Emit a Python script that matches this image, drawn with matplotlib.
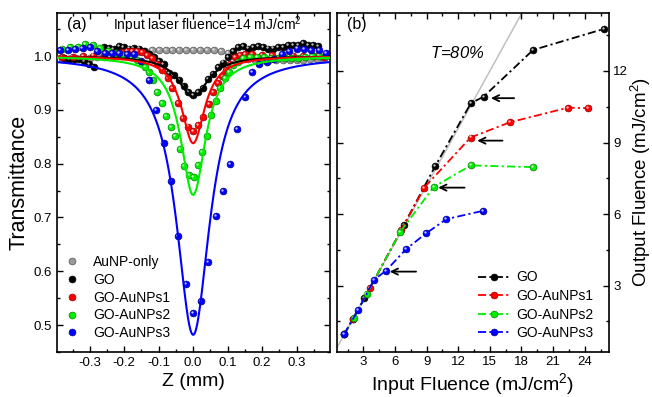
import numpy as np
import matplotlib
matplotlib.use('Agg')
import matplotlib.pyplot as plt
from matplotlib import transforms
from matplotlib.lines import Line2D
from matplotlib.ticker import MultipleLocator

plt.rcParams['font.family'] = ['Liberation Sans', 'DejaVu Sans']
plt.rcParams['mathtext.fontset'] = 'custom'
plt.rcParams['mathtext.rm'] = 'Liberation Sans'
plt.rcParams['mathtext.it'] = 'Liberation Sans:italic'

# ---------------- data: panel (a) open-aperture Z-scan ----------------
labels_a = ['AuNP-only', 'GO', 'GO-AuNPs1', 'GO-AuNPs2', 'GO-AuNPs3']
colors_a = ['#999999', '#000000', '#ff0000', '#00ee00', '#0000ff']

gray_z = [-0.38, -0.36, -0.34, -0.32, -0.30, -0.28, -0.26, -0.24, -0.22, -0.20,
          -0.18, -0.16, -0.14, -0.12, -0.10, -0.08, -0.06, -0.04, -0.02, 0.00,
          0.02, 0.04, 0.06, 0.08, 0.10, 0.12, 0.14, 0.16, 0.18, 0.20,
          0.22, 0.24, 0.26, 0.28, 0.30, 0.32, 0.34, 0.36, 0.38]
gray_t = [0.995, 0.995, 0.996, 0.996, 0.997, 0.998, 0.998, 0.999, 1.000, 1.002,
          1.004, 1.007, 1.010, 1.011, 1.011, 1.011, 1.012, 1.012, 1.012, 1.012,
          1.012, 1.012, 1.011, 1.010, 1.006, 1.000, 0.996, 0.994, 0.993, 0.993,
          0.993, 0.993, 0.992, 0.992, 0.993, 0.993, 0.994, 0.994, 0.995]

go_z = [-0.376, -0.361, -0.347, -0.332, -0.318, -0.303, -0.289, -0.274, -0.260, -0.245,
        -0.231, -0.216, -0.202, -0.187, -0.173, -0.158, -0.144, -0.129, -0.115, -0.100,
        -0.086, -0.071, -0.057, -0.042, -0.028, -0.014, 0.000, 0.014, 0.028, 0.043,
        0.057, 0.072, 0.086, 0.101, 0.115, 0.130, 0.144, 0.159, 0.173, 0.188,
        0.202, 0.217, 0.231, 0.246, 0.260, 0.275, 0.289, 0.304, 0.318, 0.333,
        0.347, 0.362]
go_t = [0.996, 0.995, 0.995, 0.994, 0.990, 0.985, 0.980, 1.012, 1.016, 1.015,
        1.013, 1.019, 1.016, 1.014, 1.015, 1.014, 1.010, 1.004, 0.998, 0.990,
        0.985, 0.969, 0.965, 0.955, 0.944, 0.934, 0.928, 0.933, 0.941, 0.958,
        0.966, 0.980, 0.988, 0.999, 1.009, 1.017, 1.019, 1.014, 1.016, 1.019,
        1.017, 1.014, 1.014, 1.017, 1.016, 1.020, 1.020, 1.021, 1.024, 1.020,
        1.020, 1.019]

s1_z = [-0.380, -0.350, -0.320, -0.290, -0.260, -0.230, -0.207, -0.192, -0.177, -0.163,
        -0.148, -0.134, -0.119, -0.104, -0.089, -0.074, -0.060, -0.045, -0.030, -0.015,
        0.000, 0.015, 0.030, 0.045, 0.059, 0.071, 0.083, 0.096, 0.108, 0.122,
        0.136, 0.150, 0.170, 0.200, 0.230, 0.260, 0.290, 0.320, 0.350, 0.380]
s1_t = [0.998, 0.999, 1.000, 1.001, 1.003, 1.006, 1.008, 1.010, 1.010, 1.009,
        1.007, 1.002, 0.996, 0.986, 0.975, 0.960, 0.940, 0.912, 0.884, 0.869,
        0.861, 0.871, 0.887, 0.910, 0.934, 0.949, 0.962, 0.974, 0.986, 0.998,
        1.002, 1.003, 1.003, 1.002, 1.002, 1.001, 1.001, 1.000, 1.000, 0.999]

s2_z = [-0.381, -0.357, -0.335, -0.313, -0.291, -0.269, -0.247, -0.225, -0.203, -0.181,
        -0.163, -0.149, -0.139, -0.129, -0.117, -0.105, -0.091, -0.078, -0.065, -0.052,
        -0.038, -0.026, -0.013, 0.001, 0.014, 0.026, 0.040, 0.052, 0.065, 0.078,
        0.093, 0.105, 0.117, 0.131, 0.146, 0.165, 0.185, 0.205, 0.225, 0.245,
        0.265, 0.285, 0.305, 0.325, 0.345, 0.365, 0.385]
s2_t = [1.014, 1.016, 1.017, 1.022, 1.020, 1.015, 1.010, 1.006, 1.002, 0.998,
        0.993, 0.986, 0.980, 0.971, 0.955, 0.934, 0.913, 0.888, 0.868, 0.851,
        0.827, 0.796, 0.779, 0.776, 0.797, 0.822, 0.852, 0.890, 0.917, 0.940,
        0.959, 0.971, 0.983, 0.989, 0.996, 0.998, 0.998, 0.998, 0.997, 0.997,
        0.996, 0.996, 0.997, 0.998, 1.000, 1.001, 1.000]

s3_z = [-0.386, -0.364, -0.343, -0.321, -0.300, -0.278, -0.257, -0.236, -0.214, -0.193,
        -0.171, -0.150, -0.128, -0.107, -0.086, -0.064, -0.043, -0.021, 0.000, 0.022,
        0.044, 0.066, 0.086, 0.107, 0.128, 0.150, 0.171, 0.192, 0.213, 0.235,
        0.257, 0.278, 0.300, 0.322, 0.343, 0.364, 0.385]
s3_t = [1.011, 1.012, 1.013, 1.015, 1.016, 1.009, 1.006, 1.006, 1.005, 1.003,
        1.003, 0.991, 0.955, 0.900, 0.838, 0.767, 0.666, 0.576, 0.522, 0.545,
        0.618, 0.703, 0.749, 0.800, 0.864, 0.924, 0.971, 0.986, 0.989, 0.995,
        1.003, 1.009, 1.014, 1.013, 1.011, 1.011, 1.006]

# fitted curve parameters (depth at focus, half width) for GO ... GO-AuNPs3
fit_depth = [0.076, 0.162, 0.258, 0.518]
fit_width = [0.052, 0.041, 0.044, 0.059]

# ---------------- data: panel (b) optical limiting ----------------
labels_b = ['GO', 'GO-AuNPs1', 'GO-AuNPs2', 'GO-AuNPs3']
colors_b = ['#000000', '#ff0000', '#00ee00', '#0000ff']
go_in = [1.2, 2.0, 3.1, 6.85, 9.8, 13.2, 14.4, 19.1, 25.8]
go_out = [0.96, 1.6, 2.47, 5.55, 8.0, 10.65, 10.92, 12.88, 13.76]
b1_in = [1.2, 2.0, 3.65, 6.6, 8.75, 13.17, 16.9, 22.4, 24.3]
b1_out = [0.96, 1.6, 2.92, 5.33, 7.1, 9.21, 9.85, 10.46, 10.44]
b2_in = [1.2, 2.07, 3.3, 6.5, 9.67, 13.2, 19.1]
b2_out = [0.96, 1.63, 2.64, 5.25, 7.14, 8.04, 7.97]
b3_in = [1.18, 2.5, 4.0, 5.15, 7.07, 8.97, 10.88, 14.37]
b3_out = [0.97, 1.98, 3.24, 3.63, 4.54, 5.2, 5.79, 6.14]
t80_slope = 0.8
# arrows (tail x, head x, y)
arrow_tail = [17.3, 16.2, 12.6, 8.0]
arrow_head = [15.1, 13.8, 10.1, 5.5]
arrow_y = [10.86, 9.08, 7.11, 3.59]

# ---------------- figure ----------------
fig = plt.figure(figsize=(6.52, 3.97), dpi=100)
axa = fig.add_axes([57/652, 1-352/397, 273/652, 339/397])
axb = fig.add_axes([337/652, 1-352/397, 272/652, 339/397])

MS = 4.9


def darker(c, f=0.55):
    rgb = np.array(matplotlib.colors.to_rgb(c))
    return tuple(rgb * f)


def balls(ax, x, y, c, zorder=3, **kw):
    ax.plot(x, y, ls='none', marker='o', ms=MS, mfc=c, mec=darker(c), mew=0.5,
            zorder=zorder, **kw)
    off = transforms.offset_copy(ax.transData, fig=fig, x=-0.75, y=0.75, units='points')
    ax.plot(x, y, ls='none', marker='o', ms=1.7, mfc='white', mec='none', alpha=0.75,
            transform=off, zorder=zorder + 0.01)


def style_axes(ax):
    for s in ax.spines.values():
        s.set_linewidth(1.2)
    ax.tick_params(which='both', direction='in', top=True, bottom=True, left=True,
                   right=True, width=1.0, labelsize=9.5)
    ax.tick_params(which='major', length=4.5)
    ax.tick_params(which='minor', length=2.5)


# panel (a)
series_a = [(gray_z, gray_t), (go_z, go_t), (s1_z, s1_t), (s2_z, s2_t), (s3_z, s3_t)]
for i, ((zz, tt), c) in enumerate(zip(series_a, colors_a)):
    balls(axa, zz, tt, c, zorder=2 + i * 0.1)
zfit = np.linspace(-0.395, 0.395, 600)
for d, w, c in zip(fit_depth, fit_width, colors_a[1:]):
    axa.plot(zfit, 1.0 - d / (1.0 + (zfit / w) ** 2), color=c, lw=1.5, zorder=4)

axa.set_xlim(-0.395, 0.397)
axa.set_ylim(0.45, 1.08)
axa.xaxis.set_major_locator(MultipleLocator(0.1))
axa.xaxis.set_minor_locator(MultipleLocator(0.05))
axa.yaxis.set_major_locator(MultipleLocator(0.1))
axa.yaxis.set_minor_locator(MultipleLocator(0.05))
style_axes(axa)
axa.set_xticks([-0.3, -0.2, -0.1, 0.0, 0.1, 0.2, 0.3])
axa.set_xticklabels(['-0.3', '-0.2', '-0.1', '0.0', '0.1', '0.2', '0.3'])
axa.set_yticks([0.5, 0.6, 0.7, 0.8, 0.9, 1.0])
axa.set_yticklabels(['0.5', '0.6', '0.7', '0.8', '0.9', '1.0'])
axa.set_xlabel('Z (mm)', fontsize=14, labelpad=3)
axa.set_ylabel('Transmittance', fontsize=15.5, labelpad=3)
axa.text(0.037, 0.965, '(a)', transform=axa.transAxes, fontsize=11.5, va='center', ha='left')
axa.text(0.205, 0.965, 'Input laser fluence=14 mJ/cm$^{2}$', transform=axa.transAxes,
         fontsize=10, va='center', ha='left')

hand_a = [Line2D([], [], ls='none', marker='o', ms=MS, mfc=c, mec=darker(c), mew=0.5)
          for c in colors_a]
axa.legend(hand_a, labels_a, loc='lower left', bbox_to_anchor=(0.03, 0.035),
           frameon=False, fontsize=10, handlelength=1.0, handletextpad=1.0,
           labelspacing=0.27, borderpad=0, borderaxespad=0, numpoints=1)

# panel (b)
axb.axline((0, 0), slope=t80_slope, color='#c0c0c0', lw=1.1, zorder=1)
series_b = [(go_in, go_out), (b1_in, b1_out), (b2_in, b2_out), (b3_in, b3_out)]
dash = (0, (4.5, 1.8, 1.2, 1.8))
for i, ((xx, yy), c) in enumerate(zip(series_b, colors_b)):
    axb.plot(xx, yy, color=c, lw=1.3, ls=dash, zorder=2 + i * 0.2)
    balls(axb, xx, yy, c, zorder=2.1 + i * 0.2)
for xt, xh, ya in zip(arrow_tail, arrow_head, arrow_y):
    axb.annotate('', xy=(xh, ya), xytext=(xt, ya),
                 arrowprops=dict(arrowstyle='->,head_length=0.45,head_width=0.22',
                                 color='black', lw=1.3, shrinkA=0, shrinkB=0), zorder=6)

axb.set_xlim(0.5, 26.3)
axb.set_ylim(0.22, 14.43)
axb.xaxis.set_major_locator(MultipleLocator(3))
axb.xaxis.set_minor_locator(MultipleLocator(1.5))
axb.yaxis.set_major_locator(MultipleLocator(3))
axb.yaxis.set_minor_locator(MultipleLocator(1.5))
style_axes(axb)
axb.tick_params(labelleft=False, labelright=True, pad=3)
axb.yaxis.set_label_position('right')
axb.set_xlabel('Input Fluence (mJ/cm$^{2}$)', fontsize=14, labelpad=2)
axb.set_ylabel('Output Fluence (mJ/cm$^{2}$)', fontsize=13.5, labelpad=0.5)
axb.text(0.037, 0.965, '(b)', transform=axb.transAxes, fontsize=11.5, va='center', ha='left')
axb.text(0.342, 0.882, '$T$=80%', transform=axb.transAxes, fontsize=12, va='center',
         ha='left', style='italic')

hand_b = [Line2D([], [], color=c, lw=1.3, ls=dash, marker='o', ms=MS, mfc=c,
                 mec=darker(c), mew=0.5) for c in colors_b]
axb.legend(hand_b, labels_b, loc='lower left', bbox_to_anchor=(0.52, 0.035),
           frameon=False, fontsize=10, handlelength=2.3, handletextpad=0.4,
           labelspacing=0.33, borderpad=0, borderaxespad=0, numpoints=1)

fig.savefig('out.png', dpi=100)
